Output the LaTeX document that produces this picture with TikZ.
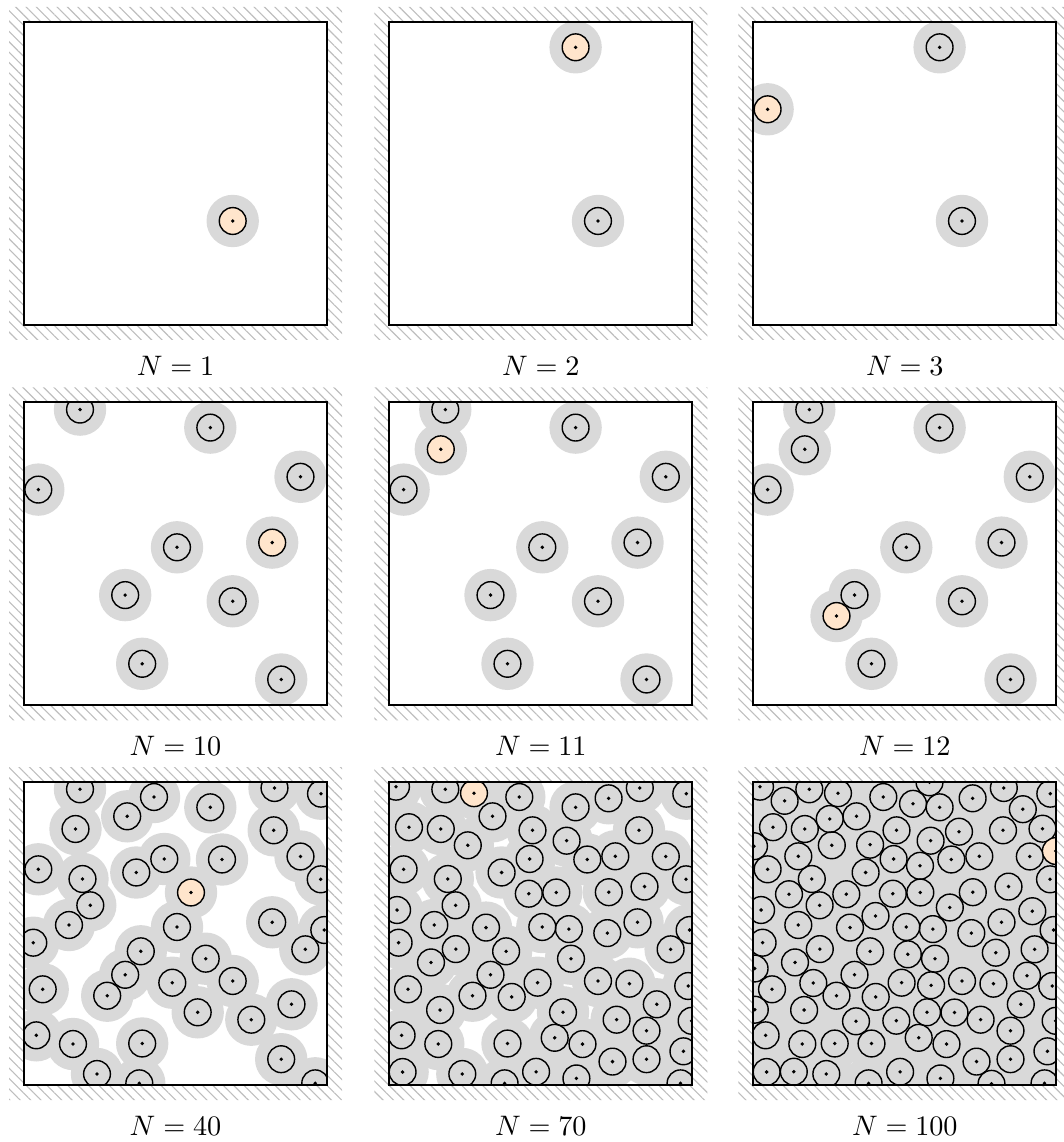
\documentclass[tikz,border=0pt]{standalone}
\usepackage{tikz}
\usetikzlibrary{patterns.meta}
\definecolor{haloGray}{RGB}{217,217,217}
\definecolor{newOrange}{RGB}{255,229,204}
\definecolor{wallGray}{RGB}{190,190,190}

% particle centres in order of insertion (box is 303 x 303, y downwards)
\def\centres{208.7/199, 186.3/25.3, 14.3/87.3,
  56/7.3, 276.5/74.5, 153/145, 101.2/192.8, 118.2/261.5, 257.2/277.2,
  248.2/140.3, 51.5/47, 83.2/213.7,
  130/15, 103.2/34.3, 250.5/6, 297/11.7, 249.7/48.3, 58.5/97, 112.3/90.5,
  140.3/77, 198/77.5, 296.7/97.3, 66.3/123.3, 45/143, 9.3/160.7, 300.3/148,
  281.3/167.3, 116.8/169.3, 181.7/176.7, 148.3/200.7, 18.7/207.3,
  173.7/230.3, 227.3/237.7, 267.5/222.3, 12.3/253.3, 49/262, 73/292,
  115.3/301.3, 291.2/301.3, 167/110.5,
  6.7/4.7, 219.3/16.3, 19.7/45.2, 78.5/63.3, 143.2/48.3, 177.3/58.7,
  226/74.3, 139.5/111.7, 219.5/110.2, 255.2/104.6, 7.8/128, 96.7/145.6,
  179.6/147.1, 218/151.1, 66.5/167.1, 41.7/180.4, 240.1/201.7, 298.9/204,
  122.4/214.9, 50.8/228, 302.3/238.8, 165.4/255.8, 193.2/262.1,
  257.2/248.7, 294.1/269.3, 223.2/279.6, 13.3/290, 146.8/289.8,
  187.1/296.4, 84.7/11.2,
  31.3/18.8, 159.7/21.8, 176.2/0.3, 269.5/27.2, 76.4/37, 205.7/49.7,
  289.2/46.7, 0.7/64.2, 45/74.3, 116.8/62.7, 166.7/83.8, 35.7/112.2,
  93/112.2, 196.5/125.5, 122.2/134, 279/129.2, 154.5/172.3, 242.5/170.7,
  1.3/186.5, 60/201, 177.8/203.3, 273.7/193.7, 1.5/227.7, 102.7/239.3,
  143/238.7, 201.2/230.5, 81.4/261.5, 40.5/289.7, 238.2/301.8,
  302.5/69}

\begin{document}
\begin{tikzpicture}[x=0.01246cm,y=-0.01246cm,
    halo/.style={fill=haloGray},
    disc/.style={draw=black,line width=0.5pt},
    wall/.style={pattern={Lines[angle=-45,distance=2.6pt,line width=0.4pt]},
                 pattern color=wallGray,even odd rule},
    lbl/.style={anchor=base}]
  \useasboundingbox (-24,-22) rectangle (1039,1120);
  \foreach \npart/\dx/\dy in {1/0/0, 2/365.3/0, 3/729.3/0,
      10/0/380.3, 11/365.3/380.3, 12/729.3/380.3,
      40/0/760, 70/365.3/760, 100/729.3/760}{
    \begin{scope}[shift={(\dx,\dy)}]
      \fill[wall] (-15,-15) rectangle (318,318) (0,0) rectangle (303,303);
      \begin{scope}
        \clip (0,0) rectangle (303,303);
        % excluded zones first
        \foreach \cx/\cy [count=\k] in \centres {
          \ifnum\k>\npart\relax\else
            \fill[halo] (\cx,\cy) circle (26.2);
          \fi}
        % then the particles, the last one inserted in orange
        \foreach \cx/\cy [count=\k] in \centres {
          \ifnum\k>\npart\relax\else
            \ifnum\k=\npart
              \filldraw[disc,fill=newOrange] (\cx,\cy) circle (13.4);
            \else
              \draw[disc] (\cx,\cy) circle (13.4);
            \fi
            \fill (\cx,\cy) circle (1.9);
          \fi}
      \end{scope}
      \draw[line width=0.8pt] (0,0) rectangle (303,303);
      \node[lbl] (lab\npart) at (151.5,353) {$N = \npart$};
    \end{scope}}
\end{tikzpicture}
\end{document}
